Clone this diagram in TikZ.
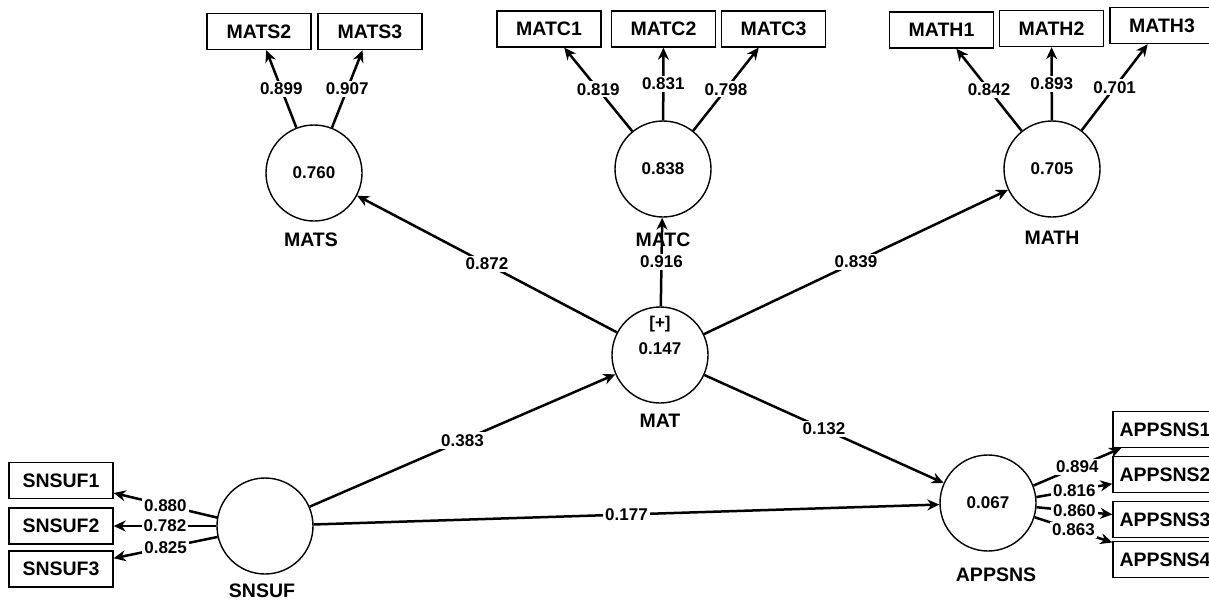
\documentclass[tikz,border=0pt]{standalone}
\usepackage{fontspec}
\setmainfont{Liberation Sans}
\usetikzlibrary{arrows.meta}
\begin{document}
\begin{tikzpicture}[x=1pt,y=-1pt,
  lv/.style={circle,draw,line width=1.4pt,minimum size=96pt,inner sep=0pt,font=\fontsize{17}{20}\selectfont\bfseries},
  mv/.style={rectangle,draw,line width=1.4pt,minimum width=104pt,minimum height=36pt,inner sep=0pt,font=\fontsize{19.5}{22}\selectfont\bfseries},
  lvname/.style={font=\fontsize{19.5}{22}\selectfont\bfseries,inner sep=0pt},
  arr/.style={line width=2.5pt,-{Stealth[length=12pt,width=11pt]}},
  coef/.style={fill=white,inner sep=2pt,font=\fontsize{17}{20}\selectfont\bfseries}]
\path[fill=white,use as bounding box] (0,0) rectangle (1209,600);

% latent variables
\node[lv] (mats) at (314,173) {0.760};
\node[lv] (matc) at (663,169) {0.838};
\node[lv] (math) at (1052,169) {0.705};
\node[lv] (mat) at (660,355) {};
\node[lv] (snsuf) at (265,526) {};
\node[lv] (appsns) at (988,503) {0.067};
\node[coef,fill=none,align=center] (matin) at (660,335.5) {[+]\\[6pt]0.147};

% latent names
\node[lvname] (matsl) at (311,240) {MATS};
\node[lvname] (matcl) at (663,240) {MATC};
\node[lvname] (mathl) at (1052,238) {MATH};
\node[lvname] (matl) at (660,421) {MAT};
\node[lvname] (snsufl) at (262,591) {SNSUF};
\node[lvname] (appsnsl) at (996,575) {APPSNS};

% indicators
\node[mv] (mats2) at (259,31.5) {MATS2};
\node[mv] (mats3) at (370,31.5) {MATS3};
\node[mv] (matc1) at (549,29) {MATC1};
\node[mv] (matc2) at (663.5,29) {MATC2};
\node[mv] (matc3) at (773.5,29) {MATC3};
\node[mv] (math1) at (941.5,30) {MATH1};
\node[mv] (math2) at (1051.5,28.5) {MATH2};
\node[mv] (math3) at (1162,25.5) {MATH3};
\node[mv] (sn1) at (61,480.5) {SNSUF1};
\node[mv] (sn2) at (61,526) {SNSUF2};
\node[mv] (sn3) at (61,569) {SNSUF3};
\node[mv] (ap1) at (1165,429.5) {APPSNS1};
\node[mv] (ap2) at (1165,474.5) {APPSNS2};
\node[mv] (ap3) at (1165,519.5) {APPSNS3};
\node[mv] (ap4) at (1165,559.5) {APPSNS4};

% outer loadings
\draw[arr] (mats) -- node[coef]{0.899} (mats2);
\draw[arr] (mats) -- node[coef]{0.907} (mats3);
\draw[arr] (matc) -- node[coef]{0.819} (matc1);
\draw[arr] (matc) -- node[coef]{0.831} (matc2);
\draw[arr] (matc) -- node[coef]{0.798} (matc3);
\draw[arr] (math) -- node[coef]{0.842} (math1);
\draw[arr] (math) -- node[coef]{0.893} (math2);
\draw[arr] (math) -- node[coef]{0.701} (math3);
\draw[arr] (snsuf.170) -- node[coef]{0.880} (sn1);
\draw[arr] (snsuf.180) -- node[coef]{0.782} (sn2);
\draw[arr] (snsuf.193) -- node[coef]{0.825} (sn3);
\draw[arr] (appsns.21) -- node[coef]{0.894} (ap1);
\draw[arr] (appsns.7) -- node[coef]{0.816} (ap2);
\draw[arr] (appsns.-5) -- node[coef]{0.860} (ap3);
\draw[arr] (appsns.-17) -- node[coef]{0.863} (ap4);

% structural paths
\draw[arr] (mat) -- node[coef]{0.872} (mats);
\draw[arr] (mat) -- node[coef]{0.916} (matc);
\draw[arr] (mat) -- node[coef]{0.839} (math);
\draw[arr] (snsuf) -- node[coef]{0.383} (mat);
\draw[arr] (mat) -- node[coef]{0.132} (appsns);
\draw[arr] (snsuf) -- node[coef]{0.177} (appsns);
\end{tikzpicture}
\end{document}
